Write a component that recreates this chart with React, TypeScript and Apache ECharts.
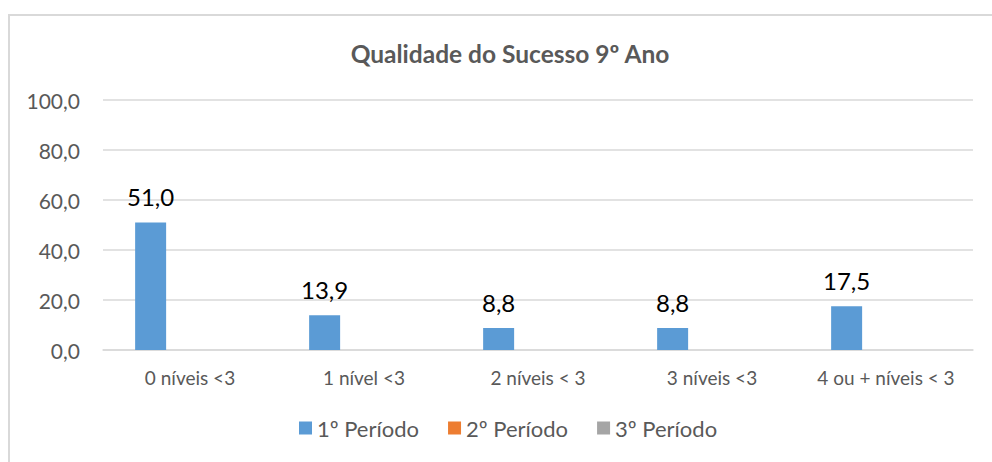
import React, { useEffect, useRef } from "react";
import * as echarts from "echarts";

const titleText = "Qualidade do Sucesso 9º Ano";
const categories = ["0 níveis <3", "1 nível <3", "2 níveis < 3", "3 níveis <3", "4 ou + níveis < 3"];
const seriesNames = ["1º Período", "2º Período", "3º Período"];
const periodo1 = [51.0, 13.9, 8.8, 8.8, 17.5];
const periodo2: (number | null)[] = [null, null, null, null, null];
const periodo3: (number | null)[] = [null, null, null, null, null];
const colors = ["#5b9bd5", "#ed7d31", "#a5a5a5"];
const yMin = 0;
const yMax = 100;
const yStep = 20;

const fmt = (v: number) => v.toFixed(1).replace(".", ",");
const FONT = "Lato, 'Noto Sans', sans-serif";

export default function App() {
  const ref = useRef<HTMLDivElement>(null);
  useEffect(() => {
    if (!ref.current) return;
    const chart = echarts.init(ref.current, undefined, { renderer: "svg" });
    const data = [periodo1, periodo2, periodo3];
    chart.setOption({
      animation: false,
      backgroundColor: "#ffffff",
      textStyle: { fontFamily: FONT },
      graphic: [
        {
          type: "rect",
          shape: { x: 9, y: 15, width: 1000, height: 500 },
          style: { fill: "none", stroke: "#d9d9d9", lineWidth: 2 },
          silent: true,
        },
      ],
      title: {
        text: titleText,
        left: 505,
        textAlign: "center",
        top: 36,
        textStyle: { fontFamily: FONT, fontSize: 24.5, fontWeight: "bold", color: "#595959" },
      },
      legend: {
        data: seriesNames,
        left: 294,
        top: 412,
        itemWidth: 13,
        itemHeight: 13,
        itemGap: 29,
        icon: "rect",
        textStyle: { fontFamily: FONT, fontSize: 22, color: "#595959" },
      },
      grid: { left: 103, right: 19, top: 100, bottom: 112, containLabel: false },
      xAxis: {
        type: "category",
        data: categories,
        axisTick: { show: false },
        axisLine: { lineStyle: { color: "#d9d9d9", width: 1.5 } },
        axisLabel: { fontFamily: FONT, fontSize: 19, color: "#595959", margin: 18, interval: 0 },
      },
      yAxis: {
        type: "value",
        min: yMin,
        max: yMax,
        interval: yStep,
        axisLine: { show: false },
        axisTick: { show: false },
        splitLine: { lineStyle: { color: "#d9d9d9", width: 1.5 } },
        axisLabel: { fontFamily: FONT, fontSize: 21, color: "#595959", margin: 23, formatter: (v: number) => fmt(v) },
      },
      series: seriesNames.map((name, i) => ({
        name,
        type: "bar",
        data: data[i],
        barWidth: 31,
        barGap: "27%",
        itemStyle: { color: colors[i] },
        label: {
          show: i === 0,
          position: "top",
          distance: 14,
          fontFamily: FONT,
          fontSize: 24,
          color: "#000000",
          formatter: (p: any) => (p.value == null ? "" : fmt(p.value)),
        },
      })),
    });
    return () => chart.dispose();
  }, []);
  return (
    <div
      ref={ref}
      style={{ position: "fixed", left: 0, top: 0, width: 992, height: 462, background: "#fff" }}
    />
  );
}
